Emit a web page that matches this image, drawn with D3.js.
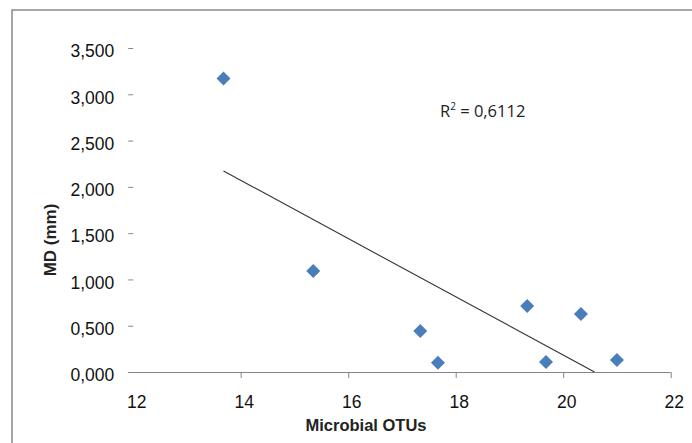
<!DOCTYPE html>
<html><head><meta charset="utf-8">
<script src="https://cdn.jsdelivr.net/npm/d3@7"></script>
<style>
html,body{margin:0;padding:0;background:#fff;}
svg{display:block;}
</style></head>
<body>
<svg id="chart" width="692" height="443"></svg>
<script>
const otus = [13.68, 15.35, 17.34, 17.67, 19.33, 19.68, 20.33, 21.0];
const md   = [3.17, 1.09, 0.443, 0.10, 0.713, 0.108, 0.626, 0.13];
const xTicks = [12, 14, 16, 18, 20, 22];
const yTicks = [0, 0.5, 1, 1.5, 2, 2.5, 3, 3.5];
const r2Label = "0,6112";

const svg = d3.select("#chart");
const W = 692, H = 443;
const x = d3.scaleLinear().domain([12, 22]).range([133.2, 670.7]);
const y = d3.scaleLinear().domain([0, 3.5]).range([372, 48]);
const gray = "#868686";
const tickFont = "Liberation Sans, Arial, sans-serif";

// outer border (left and top)
svg.append("path").attr("d", `M12,${H} L12,10 L${W},10`)
  .attr("fill", "none").attr("stroke", "#8a8a8a").attr("stroke-width", 1.5);

// x axis
const xAxis = d3.axisBottom(x).tickValues(xTicks).tickSize(6).tickSizeOuter(0)
  .tickFormat(d3.format("d"));
const gx = svg.append("g").attr("transform", `translate(0,${y(0)})`).call(xAxis);
gx.select(".domain").attr("stroke", gray).attr("d", `M${x(12)-5},0.5H${x(22)}`);
gx.selectAll(".tick line").attr("stroke", gray);
gx.selectAll(".tick").filter(d => d === 12).select("line").remove();
gx.selectAll(".tick text").attr("font-family", tickFont)
  .attr("font-size", 17.5).attr("fill", "#111").attr("dy", "1.55em").attr("dx", 3);

// y axis
const yFmt = v => d3.format(",.3f")(v).replace(".", ",");
const gy = svg.append("g").attr("transform", `translate(${x(12)},0)`)
  .call(d3.axisLeft(y).tickValues(yTicks).tickSize(5).tickSizeOuter(0).tickFormat(yFmt));
gy.select(".domain").remove();
gy.selectAll(".tick line").attr("stroke", gray);
gy.selectAll(".tick text").attr("font-family", tickFont)
  .attr("font-size", 17.5).attr("fill", "#111").attr("dx", -11).attr("dy", "0.5em");

// trendline (least squares)
const n = otus.length;
const mx = d3.mean(otus), my = d3.mean(md);
let sxy = 0, sxx = 0;
for (let i = 0; i < n; i++) { sxy += (otus[i]-mx)*(md[i]-my); sxx += (otus[i]-mx)**2; }
const slope = sxy / sxx, icpt = my - slope * mx;
const x0 = d3.min(otus);
const xEnd = Math.min(d3.max(otus), -icpt / slope);
svg.append("line")
  .attr("x1", x(x0)).attr("y1", y(slope*x0 + icpt))
  .attr("x2", x(xEnd)).attr("y2", y(slope*xEnd + icpt))
  .attr("stroke", "#333").attr("stroke-width", 1.1);

// points (diamonds)
const sym = d3.symbol().type(d3.symbolSquare).size(98);
svg.append("g").selectAll("path").data(otus.map((v, i) => [v, md[i]])).join("path")
  .attr("d", sym)
  .attr("transform", d => `translate(${x(d[0])},${y(d[1])}) rotate(45)`)
  .attr("fill", "#4A7EBB");

// R² label
const t = svg.append("text").attr("x", 440).attr("y", 117)
  .attr("font-family", "Open Sans, Liberation Sans, sans-serif").attr("font-size", 16.5).attr("fill", "#222");
t.append("tspan").text("R");
t.append("tspan").text("2").attr("font-size", 10).attr("dy", -7);
t.append("tspan").text(" = " + r2Label).attr("dy", 7);

// axis titles
svg.append("text").attr("x", 366).attr("y", 431).attr("text-anchor", "middle")
  .attr("font-family", "Liberation Sans, Arial, sans-serif").attr("font-weight", "bold")
  .attr("font-size", 16.5).attr("fill", "#222").text("Microbial OTUs");
svg.append("text").attr("transform", "translate(56,240) rotate(-90)").attr("text-anchor", "middle")
  .attr("font-family", "Liberation Sans, Arial, sans-serif").attr("font-weight", "bold")
  .attr("font-size", 17).attr("fill", "#222").text("MD (mm)");
</script>
</body></html>
